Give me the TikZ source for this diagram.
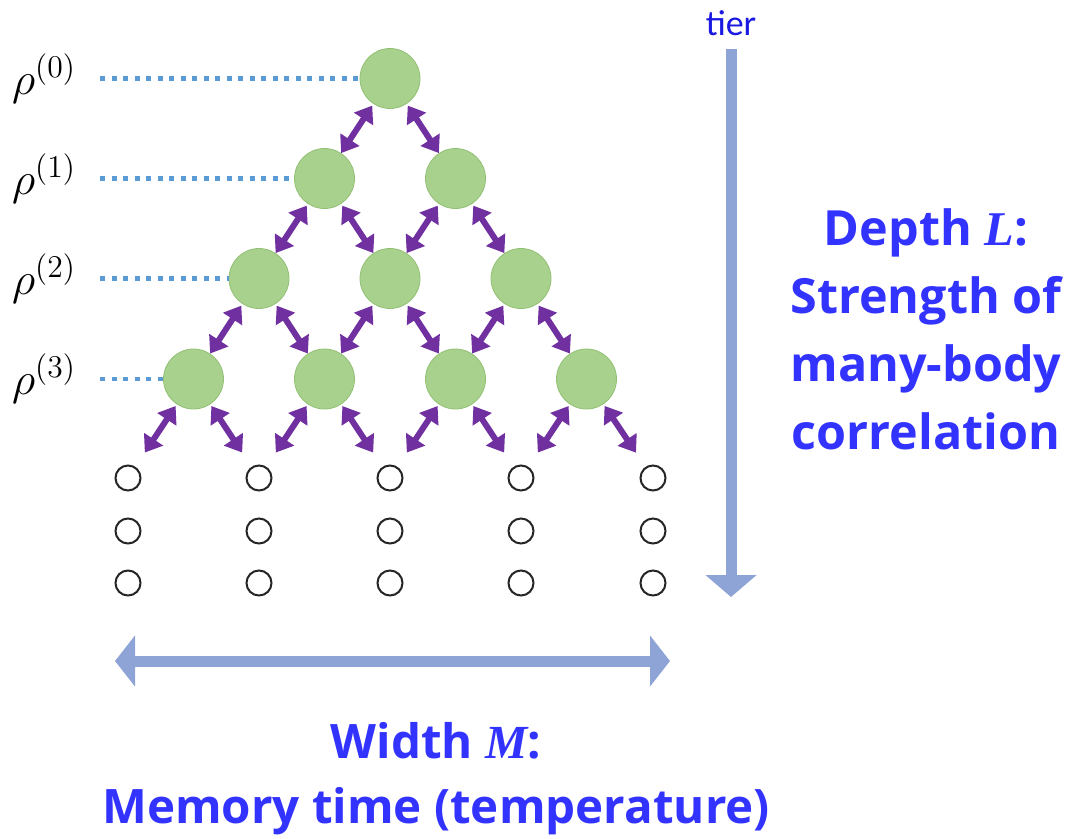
\documentclass[tikz,border=0pt]{standalone}
\usepackage{graphicx}
\usepackage{fontspec}
\usetikzlibrary{arrows.meta}
\newfontfamily\headf{Open Sans}
\newfontfamily\tierf{Carlito}
\newfontfamily\serbi{Liberation Serif}
\definecolor{gfill}{RGB}{169,209,142}
\definecolor{gdraw}{RGB}{145,192,115}
\definecolor{purp}{RGB}{112,48,160}
\definecolor{dotc}{RGB}{91,155,213}
\definecolor{bigarr}{RGB}{142,164,214}
\definecolor{txtblue}{RGB}{51,51,255}
\definecolor{tierblue}{RGB}{25,25,225}
\newcommand{\rholab}[1]{\scalebox{2.2}{$\rho^{(#1)}$}}
\begin{document}
\begin{tikzpicture}[x=1pt,y=-1pt,
  gnode/.style={circle, fill=gfill, draw=gdraw, line width=0.8pt, minimum size=60pt, inner sep=0pt},
  snode/.style={circle, draw=black!85, line width=2pt, minimum size=25pt, inner sep=0pt},
  link/.style={draw=purp, line width=6pt, {Triangle[length=16pt,width=22pt]}-{Triangle[length=16pt,width=22pt]}, shorten <=2pt},
  leaf/.style={link, shorten >=17pt},
  dotline/.style={draw=dotc, line width=4.5pt, dash pattern=on 5pt off 6.5pt},
  rholbl/.style={anchor=base west, font=\fontsize{22}{26}\selectfont, inner sep=0pt},
  bigarrow/.style={draw=bigarr, line width=11pt},
  sidetext/.style={text=txtblue, align=center, font=\headf\bfseries\fontsize{48.5}{68}\selectfont, inner sep=0pt},
  bottext/.style={text=txtblue, align=center, font=\headf\bfseries\fontsize{47.5}{65}\selectfont, inner sep=0pt}
]
\useasboundingbox (0,0) rectangle (1078,838);

% green tier nodes
\node[gnode] (g0)  at (390,78.5) {};
\node[gnode] (g10) at (324.5,178.5) {};
\node[gnode] (g11) at (455.5,178.5) {};
\node[gnode] (g20) at (259,278.5) {};
\node[gnode] (g21) at (390,278.5) {};
\node[gnode] (g22) at (521,278.5) {};
\node[gnode] (g30) at (193.5,379) {};
\node[gnode] (g31) at (324.5,379) {};
\node[gnode] (g32) at (455.5,379) {};
\node[gnode] (g33) at (586.5,379) {};

% small circles
\foreach \c/\x in {0/128,1/259,2/390,3/521,4/653}{
  \foreach \r/\y in {0/478,1/531,2/583}{
    \node[snode] (s\c\r) at (\x,\y) {};
  }
}

% purple links
\draw[link] (g0) -- (g10);
\draw[link] (g0) -- (g11);
\draw[link] (g10) -- (g20);
\draw[link] (g10) -- (g21);
\draw[link] (g11) -- (g21);
\draw[link] (g11) -- (g22);
\draw[link] (g20) -- (g30);
\draw[link] (g20) -- (g31);
\draw[link] (g21) -- (g31);
\draw[link] (g21) -- (g32);
\draw[link] (g22) -- (g32);
\draw[link] (g22) -- (g33);
\draw[leaf] (g30) -- (s00);
\draw[leaf] (g30) -- (s10);
\draw[leaf] (g31) -- (s10);
\draw[leaf] (g31) -- (s20);
\draw[leaf] (g32) -- (s20);
\draw[leaf] (g32) -- (s30);
\draw[leaf] (g33) -- (s30);
\draw[leaf] (g33) -- (s40);

% rho labels and dotted guides
\node[rholbl] (r0) at (12,94) {\rholab{0}};
\node[rholbl] (r1) at (12,194) {\rholab{1}};
\node[rholbl] (r2) at (12,294) {\rholab{2}};
\node[rholbl] (r3) at (12,394.5) {\rholab{3}};
\coordinate (d0) at (100,78.5);
\coordinate (d1) at (100,178.5);
\coordinate (d2) at (100,278.5);
\coordinate (d3) at (100,379);
\draw[dotline] (d0) -- (g0);
\draw[dotline] (d1) -- (g10);
\draw[dotline] (d2) -- (g20);
\draw[dotline] (d3) -- (g30);

% tier arrow
\node[font=\tierf\fontsize{36}{40}\selectfont, text=tierblue, anchor=base] (tier) at (731,35) {tier};
\coordinate (ttop) at (731,49);
\coordinate (tbot) at (731,597);
\draw[bigarrow, -{Triangle[length=22pt,width=50pt]}] (ttop) -- (tbot);

% width arrow
\coordinate (wl) at (115,661);
\coordinate (wr) at (670,661);
\draw[bigarrow, {Triangle[length=20pt,width=50pt]}-{Triangle[length=20pt,width=50pt]}] (wl) -- (wr);

% texts
\node[sidetext, anchor=base] (depth) at (926,449) {Depth {\serbi\itshape L}:\\Strength of\\many-body\\correlation};
\node[bottext, anchor=base] (width) at (436,823) {Width {\serbi\itshape M}:\\Memory time (temperature)};
\end{tikzpicture}
\end{document}
